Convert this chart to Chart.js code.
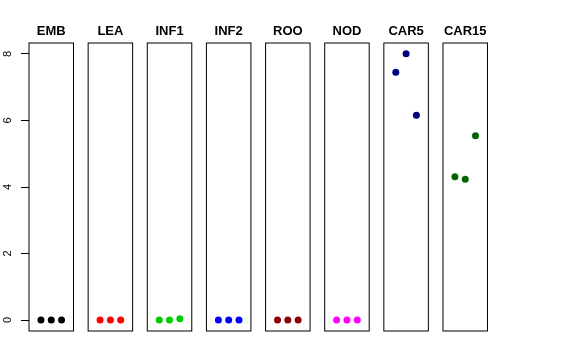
<!DOCTYPE html>
<html>
<head>
<meta charset="utf-8">
<script src="https://cdn.jsdelivr.net/npm/chart.js@4"></script>
<style>
  body { margin: 0; background: #fff; }
  #wrap { position: relative; width: 576px; height: 360px; }
  #wrap canvas { position: absolute; left: 0; top: 0; }
</style>
</head>
<body>
<div id="wrap"></div>
<script>
// panel names and the 3 measurements in each
const panelNames = ['EMB', 'LEA', 'INF1', 'INF2', 'ROO', 'NOD', 'CAR5', 'CAR15'];
const xIndex = [1, 2, 3];
const embValues = [0, 0, 0];
const leaValues = [0, 0, 0];
const inf1Values = [0, 0, 0.04];
const inf2Values = [0, 0, 0];
const rooValues = [0, 0, 0];
const nodValues = [0, 0, 0];
const car5Values = [7.45, 8.01, 6.16];
const car15Values = [4.31, 4.23, 5.54];
const yTicks = [0, 2, 4, 6, 8];

const allValues = [embValues, leaValues, inf1Values, inf2Values, rooValues, nodValues, car5Values, car15Values];
const colors = ['#000000', '#ff0000', '#00cd00', '#0000ff', '#8b0000', '#ff00ff', '#000080', '#006400'];

const W = 576, H = 360;
const firstLeft = 29, step = 59.14, panelW = 44.5;
const wrap = document.getElementById('wrap');

const panelDeco = {
    id: 'panelDeco',
    afterDraw(chart, args, opts) {
        const ctx = chart.ctx;
        const a = chart.chartArea;
        ctx.save();
        ctx.strokeStyle = '#000';
        ctx.lineWidth = 1;
        ctx.strokeRect(a.left, a.top, a.right - a.left, a.bottom - a.top);
        ctx.fillStyle = '#000';
        ctx.font = 'bold 13px "Liberation Sans", Arial, sans-serif';
        ctx.textAlign = 'center';
        ctx.textBaseline = 'alphabetic';
        ctx.fillText(opts.title, (a.left + a.right) / 2, 34.5);
        if (opts.yLabels) {
            const s = chart.scales.y;
            ctx.font = '11px "Liberation Sans", Arial, sans-serif';
            ctx.textBaseline = 'middle';
            s.ticks.forEach(t => {
                const y = s.getPixelForValue(t.value);
                ctx.save();
                ctx.translate(8, y);
                ctx.rotate(-Math.PI / 2);
                ctx.fillText(String(t.value), 0, 0);
                ctx.restore();
            });
        }
        ctx.restore();
    }
};

panelNames.forEach((name, i) => {
    const c = document.createElement('canvas');
    c.width = W;
    c.height = H;
    wrap.appendChild(c);
    const left = firstLeft + i * step;
    const right = W - (left + panelW);
    const first = i === 0;
    new Chart(c.getContext('2d'), {
        type: 'scatter',
        data: {
            datasets: [{
                data: xIndex.map((x, k) => ({ x: x, y: allValues[i][k] })),
                backgroundColor: colors[i],
                borderWidth: 0,
                pointRadius: 3.5,
                pointHoverRadius: 3.5,
                clip: false
            }]
        },
        options: {
            responsive: false,
            animation: false,
            devicePixelRatio: 1,
            events: [],
            layout: {
                padding: { left: first ? 0 : left, right: right, top: 43, bottom: 29 }
            },
            scales: {
                x: { type: 'linear', min: -0.16, max: 4.16, display: false },
                y: {
                    type: 'linear',
                    min: -0.33,
                    max: 8.33,
                    display: first,
                    afterBuildTicks: s => { s.ticks = yTicks.map(v => ({ value: v })); },
                    afterFit: s => { s.width = first ? firstLeft : 0; },
                    border: { display: false },
                    grid: { drawOnChartArea: false, drawTicks: true, tickLength: 8, color: '#000' },
                    ticks: { display: false }
                }
            },
            plugins: {
                legend: { display: false },
                tooltip: { enabled: false },
                title: { display: false },
                panelDeco: { title: name, yLabels: first }
            }
        },
        plugins: [panelDeco]
    });
});
</script>
</body>
</html>
